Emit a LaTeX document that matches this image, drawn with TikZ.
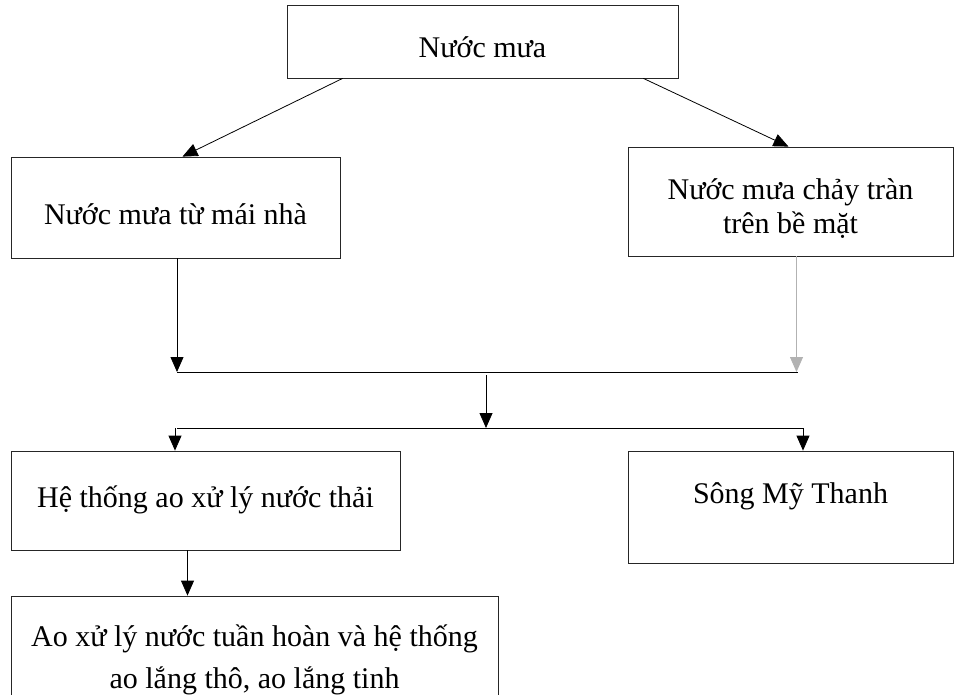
\documentclass[tikz,border=0pt]{standalone}
\usepackage{fontspec}
\setmainfont{Liberation Serif}
\usetikzlibrary{arrows.meta}

\begin{document}
\begin{tikzpicture}[>={Triangle[length=15pt, width=13pt]}, x=1pt, y=-1pt,
    box/.style={draw=black!85, line width=0.8pt, align=center, inner sep=0pt,
        font=\fontsize{30}{34}\selectfont, text depth=0pt},
    link/.style={->, line width=0.8pt}]

    \useasboundingbox (0,0) rectangle (956,694);

    % Boxes
    \node[box, minimum width=391pt, minimum height=73pt, text height=31pt] (rain) at (482.5,41.5) {Nước mưa};
    \node[box, minimum width=329pt, minimum height=101pt, text height=33pt] (roof) at (175.5,207.5) {Nước mưa từ mái nhà};
    \node[box, minimum width=325pt, minimum height=109pt, text height=63pt] (surf) at (790.5,201.5) {Nước mưa chảy tràn\\trên bề mặt};
    \node[box, minimum width=389pt, minimum height=99pt, text height=13pt] (pond) at (205.5,500.5) {Hệ thống ao xử lý nước thải};
    \node[box, minimum width=325pt, minimum height=112pt, text height=24pt, text depth=32pt] (river) at (790.5,507) {Sông Mỹ Thanh};
    \node[box, minimum width=487pt, minimum height=116pt, text height=68pt,
        font=\fontsize{30}{42}\selectfont] (reuse) at (254.5,654) {Ao xử lý nước tuần hoàn và hệ thống\\ao lắng thô, ao lắng tinh};

    % Junctions
    \coordinate (barA) at (486,372);
    \coordinate (barB) at (486,428);
    \coordinate (dropL) at (175,428);
    \coordinate (dropR) at (803,428);

    % Connectors
    \draw[link] ([xshift=56pt]rain.south west) -- ([xshift=7pt]roof.north);
    \draw[link] ([xshift=-35pt]rain.south east) -- ([xshift=-2pt]surf.north);

    \draw[link] ([xshift=1.5pt]roof.south) -- ([xshift=1.5pt]roof.south |- barA);
    \draw[link, gray!60] ([xshift=6pt]surf.south) -- ([xshift=6pt]surf.south |- barA);
    \draw[line width=0.8pt] ([xshift=1.5pt]roof.south |- barA) -- ([xshift=7pt]surf.south |- barA);

    \draw[link] ([yshift=-3pt]barA) -- (barB);
    \draw[line width=0.8pt] ([xshift=2pt]dropL) -- (dropR);

    \draw[link] (dropL) -- (dropL |- pond.north);
    \draw[link] (dropR) -- (dropR |- river.north);
    \draw[link] ([xshift=-18pt]pond.south) -- ([xshift=-18pt]pond.south |- reuse.north);
\end{tikzpicture}
\end{document}
